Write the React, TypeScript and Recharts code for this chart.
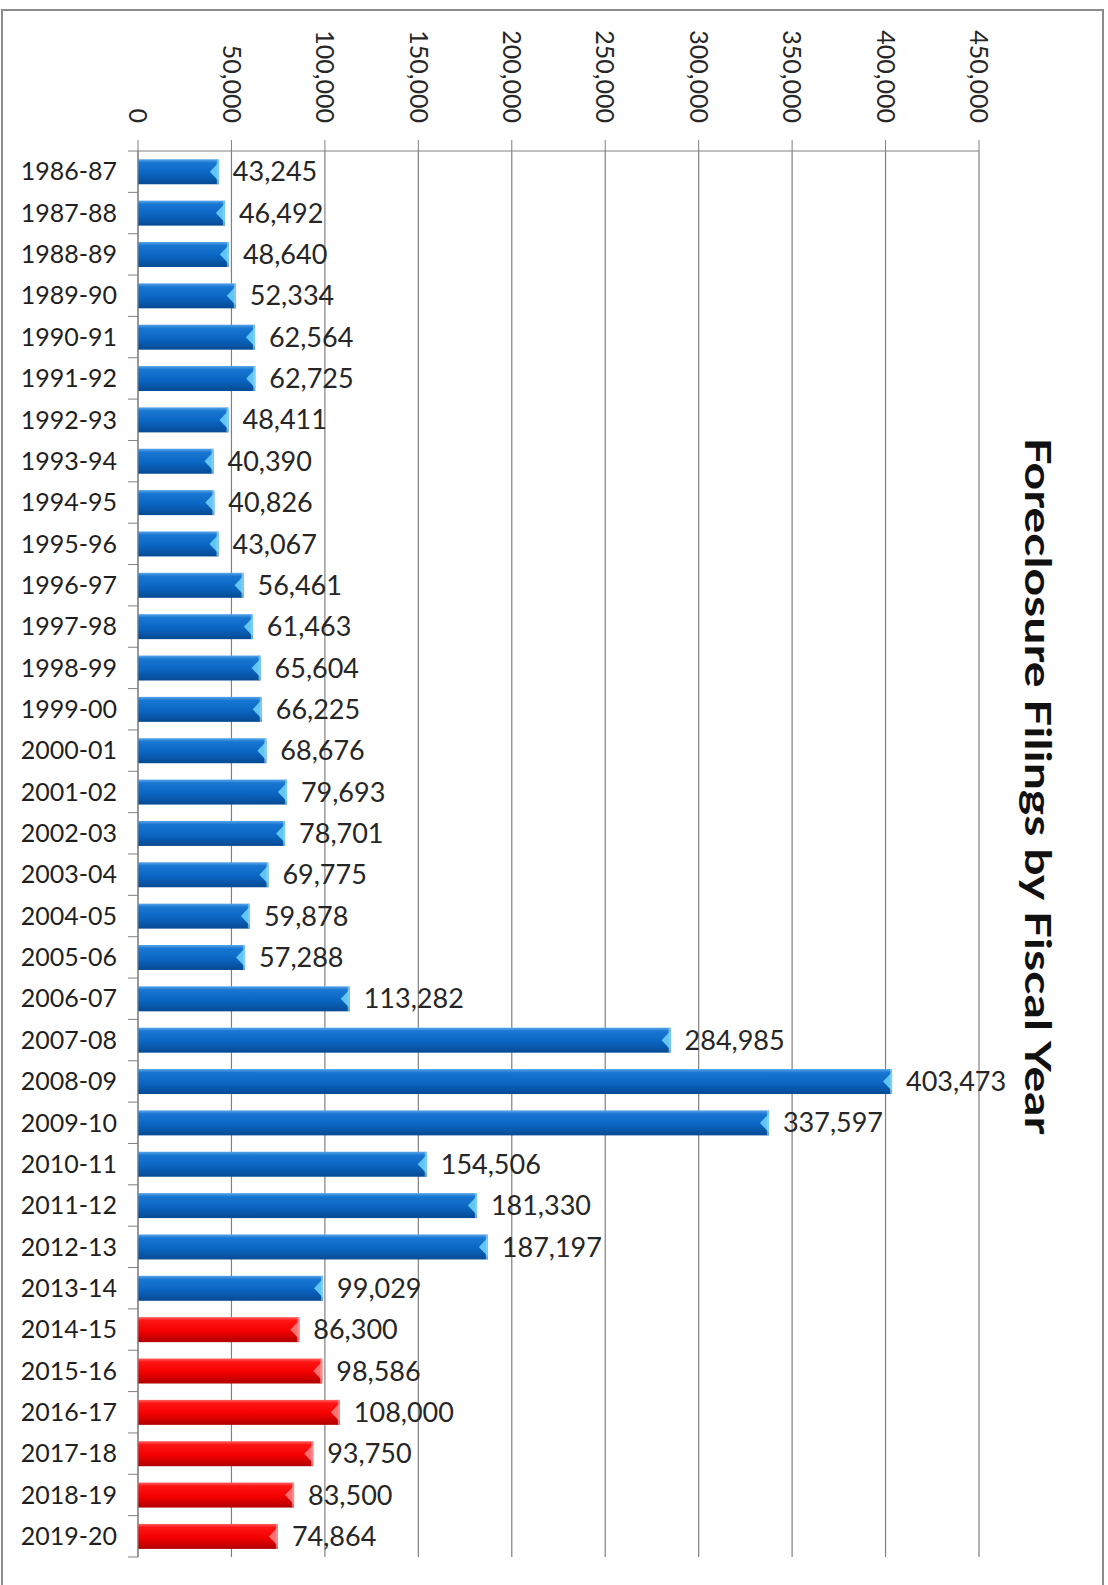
import React from 'react'
import { BarChart, Bar, XAxis, YAxis, CartesianGrid, LabelList } from 'recharts'

const years = [
  '1986-87', '1987-88', '1988-89', '1989-90', '1990-91', '1991-92', '1992-93',
  '1993-94', '1994-95', '1995-96', '1996-97', '1997-98', '1998-99', '1999-00',
  '2000-01', '2001-02', '2002-03', '2003-04', '2004-05', '2005-06', '2006-07',
  '2007-08', '2008-09', '2009-10', '2010-11', '2011-12', '2012-13', '2013-14',
  '2014-15', '2015-16', '2016-17', '2017-18', '2018-19', '2019-20'
]

const filings = [
  43245, 46492, 48640, 52334, 62564, 62725, 48411,
  40390, 40826, 43067, 56461, 61463, 65604, 66225,
  68676, 79693, 78701, 69775, 59878, 57288, 113282,
  284985, 403473, 337597, 154506, 181330, 187197, 99029,
  86300, 98586, 108000, 93750, 83500, 74864
]

// years drawn in red in the source chart
const redYears = ['2014-15', '2015-16', '2016-17', '2017-18', '2018-19', '2019-20']

const valueTicks = [0, 50000, 100000, 150000, 200000, 250000, 300000, 350000, 400000, 450000]

const data = years.map((year, i) => ({
  year,
  filings: filings[i],
  red: redYears.includes(year)
}))

const W = 1108
const H = 1585
const MARGIN = { top: 11, right: 129, bottom: 28, left: 10 }
const X_AXIS_H = 140
const PLOT_H = H - MARGIN.top - MARGIN.bottom - X_AXIS_H
const FONT = 'Lato, "Open Sans", sans-serif'
const AXIS = '#808080'

const fmt = (v: number) => v.toLocaleString('en-US')

const ValueTick = (props: any) => {
  const { x, y, payload } = props
  return (
    <text
      transform={`translate(${x},${y}) rotate(90)`}
      textAnchor="end"
      dy="0.35em"
      fontSize={25}
      fontFamily={FONT}
      fill="#262626"
    >
      {fmt(payload.value)}
    </text>
  )
}

const YearTick = (props: any) => {
  const { x, y, payload, index } = props
  const band = PLOT_H / years.length
  return (
    <g>
      <text x={x} y={y} dy="0.35em" textAnchor="end" fontSize={25} fontFamily={FONT} fill="#1f1f1f">
        {payload.value}
      </text>
      <line x1={x + 11} x2={x + 21} y1={y + band / 2} y2={y + band / 2} stroke={AXIS} />
      {index === 0 && (
        <line x1={x + 11} x2={x + 21} y1={y - band / 2} y2={y - band / 2} stroke={AXIS} />
      )}
    </g>
  )
}

const BarShape = (props: any) => {
  const { x, y, width, height, payload } = props
  const red = payload && payload.red
  const tip = Math.min(9, width)
  return (
    <g>
      <rect x={x} y={y} width={width} height={height} fill={red ? 'url(#gRed)' : 'url(#gBlue)'} />
      <polygon
        points={`${x + width - tip},${y + height / 2} ${x + width},${y + 3} ${x + width},${y + height - 3}`}
        fill={red ? '#ff7070' : '#62c6f2'}
      />
      <rect x={x + width - 2} y={y} width={2} height={height} fill={red ? '#ff9a9a' : '#8ad6f7'} opacity={0.7} />
    </g>
  )
}

const App: React.FC = () => {
  return (
    <div style={{ position: 'absolute', left: 0, top: 0, width: W, height: H, background: '#fff', overflow: 'hidden' }}>
      <div
        style={{
          position: 'absolute',
          left: 1,
          top: 9,
          width: 1103,
          height: 1600,
          border: '2px solid #8c8c8c',
          boxSizing: 'border-box'
        }}
      />
      <div style={{ position: 'absolute', left: 0, top: 0 }}>
        <BarChart
          width={W}
          height={H}
          data={data}
          layout="vertical"
          margin={MARGIN}
          barCategoryGap="20%"
          style={{ fontFamily: FONT }}
        >
          <defs>
            <linearGradient id="gBlue" x1="0" y1="0" x2="0" y2="1">
              <stop offset="0%" stopColor="#5aa6ea" />
              <stop offset="14%" stopColor="#1877d2" />
              <stop offset="55%" stopColor="#0b66c3" />
              <stop offset="100%" stopColor="#064a93" />
            </linearGradient>
            <linearGradient id="gRed" x1="0" y1="0" x2="0" y2="1">
              <stop offset="0%" stopColor="#ff6060" />
              <stop offset="14%" stopColor="#ff1414" />
              <stop offset="55%" stopColor="#f40000" />
              <stop offset="100%" stopColor="#b00000" />
            </linearGradient>
          </defs>
          <CartesianGrid horizontal={false} stroke={AXIS} strokeWidth={1.2} />
          <XAxis
            type="number"
            orientation="top"
            domain={[0, 450000]}
            ticks={valueTicks}
            interval={0}
            height={X_AXIS_H}
            axisLine={{ stroke: AXIS }}
            tickLine={{ stroke: AXIS }}
            tickSize={11}
            tickMargin={17}
            tick={<ValueTick />}
          />
          <YAxis
            type="category"
            dataKey="year"
            width={128}
            interval={0}
            axisLine={{ stroke: AXIS }}
            tickLine={false}
            tickSize={0}
            tickMargin={21}
            tick={<YearTick />}
          />
          <Bar dataKey="filings" shape={<BarShape />} isAnimationActive={false}>
            <LabelList
              dataKey="filings"
              position="right"
              offset={14}
              formatter={(v: any) => fmt(Number(v))}
              fontSize={27}
              fontFamily={FONT}
              fill="#262626"
            />
          </Bar>
        </BarChart>
      </div>
      <svg width={W} height={H} style={{ position: 'absolute', left: 0, top: 0, pointerEvents: 'none' }}>
        <text
          transform="translate(1025,786) rotate(90)"
          textAnchor="middle"
          fontSize={37}
          fontWeight="bold"
          fontFamily={FONT}
          fill="#111"
          textLength={697}
          lengthAdjust="spacingAndGlyphs"
        >
          Foreclosure Filings by Fiscal Year
        </text>
      </svg>
    </div>
  )
}

export default App
